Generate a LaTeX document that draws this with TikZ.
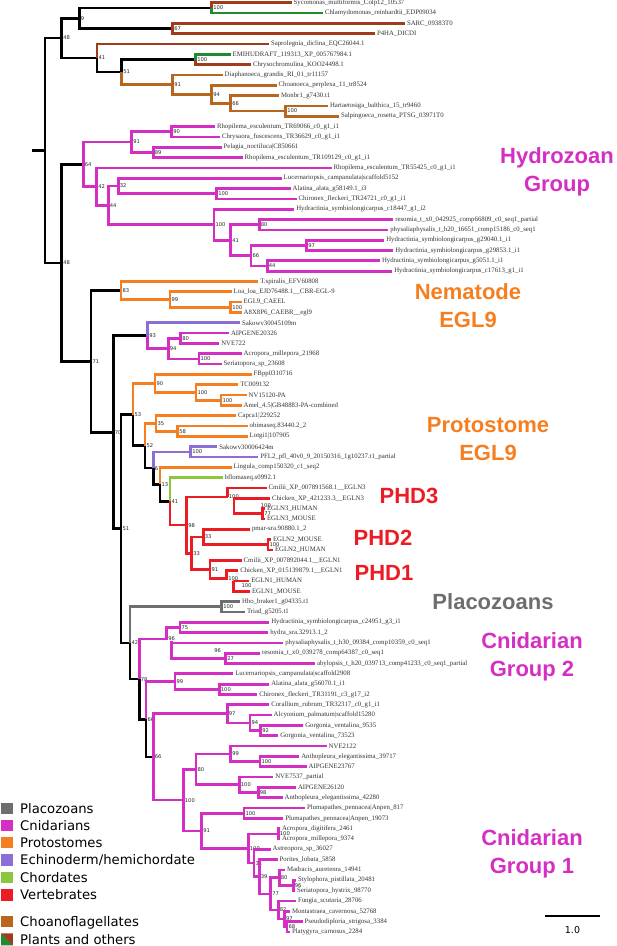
\documentclass[tikz,border=0pt]{standalone}
\usepackage{fontspec}
\setmainfont{Liberation Serif}
\newfontfamily\numfont{DejaVu Sans}
\newfontfamily\grpfont{Liberation Sans}
\newfontfamily\legfont{DejaVu Sans}
\definecolor{oth}{HTML}{A03C1C}
\definecolor{pla}{HTML}{1F8A2E}
\definecolor{cho}{HTML}{B8651E}
\definecolor{cni}{HTML}{D42FC2}
\definecolor{pro}{HTML}{F57F20}
\definecolor{ech}{HTML}{8B6FD6}
\definecolor{chd}{HTML}{8CC63E}
\definecolor{ver}{HTML}{EC1C24}
\definecolor{plc}{HTML}{6D6E70}
\tikzset{
 br/.style={line width=2.7pt, line join=miter},
 leaf/.style={anchor=west, xshift=1.4pt, inner sep=0.4pt, font=\fontsize{6.8}{7}\selectfont, text=black!80},
 bs/.style={anchor=west, xshift=1.1pt, inner sep=0.3pt, font=\numfont\fontsize{5.2}{5.2}\selectfont, text=black!85},
 grp/.style={align=center, inner sep=0pt, font=\grpfont\bfseries\fontsize{22}{28}\selectfont},
 leg/.style={anchor=base west, inner sep=0pt, font=\legfont\fontsize{13.2}{14}\selectfont},
 sw/.style={minimum size=11.5pt, inner sep=0pt, draw=none}
}
\newcommand\myleaf[4]{\coordinate (#1) at (#3,{2.7+10.325*#2}); \node[leaf] (#1t) at (#1) {#4};}
\newcommand\mynode[4]{\coordinate (#1) at (#2,#3); \node[bs] (#1b) at (#1) {#4};}
\begin{document}
\begin{tikzpicture}[x=1pt,y=-1pt]
\useasboundingbox (0,0) rectangle (617,946);
% leaves
\myleaf{L0}{0}{291.7}{Sycomonas\_multiformis\_Colp12\_10537}
\myleaf{L1}{1}{323}{Chlamydomonas\_reinhardtii\_EDP09034}
\myleaf{L2}{2}{405}{SARC\_09383T0}
\myleaf{L3}{3}{375}{P4HA\_DICDI}
\myleaf{L4}{4}{269}{Saprolegnia\_diclina\_EQC26044.1}
\myleaf{L5}{5}{230.7}{EMIHUDRAFT\_119313\_XP\_005767984.1}
\myleaf{L6}{6}{251}{Chrysochromulina\_KOO24498.1}
\myleaf{L7}{7}{222.7}{Diaphanoeca\_grandis\_RI\_01\_tr11157}
\myleaf{L8}{8}{276.7}{Choanoeca\_perplexa\_11\_tr8524}
\myleaf{L9}{9}{279}{Monbr1\_g7430.t1}
\myleaf{L10}{10}{328}{Hartaetosiga\_balthica\_15\_tr9460}
\myleaf{L11}{11}{339}{Salpingoeca\_rosetta\_PTSG\_03971T0}
\myleaf{L12}{12}{215}{Rhopilema\_esculentum\_TR69066\_c0\_g1\_i1}
\myleaf{L13}{13}{220}{Chrysaora\_fuscescens\_TR36629\_c0\_g1\_i1}
\myleaf{L14}{14}{221.7}{Pelagia\_noctiluca|C850661}
\myleaf{L15}{15}{242.7}{Rhopilema\_esculentum\_TR109129\_c0\_g1\_i1}
\myleaf{L16}{16}{331.7}{Rhopilema\_esculentum\_TR55425\_c0\_g1\_i1}
\myleaf{L17}{17}{281.7}{Lucernariopsis\_campanulata|scaffold5152}
\myleaf{L18}{18}{290.7}{Alatina\_alata\_g58149.1\_i3}
\myleaf{L19}{19}{296.7}{Chironex\_fleckeri\_TR24721\_c0\_g1\_i1}
\myleaf{L20}{20}{294.3}{Hydractinia\_symbiolongicarpus\_c18447\_g1\_i2}
\myleaf{L21}{21}{393.3}{resomia\_t\_x0\_042925\_comp66809\_c0\_seq1\_partial}
\myleaf{L22}{22}{388.3}{physaliaphysalis\_t\_h20\_16651\_comp15186\_c0\_seq1}
\myleaf{L23}{23}{384.3}{Hydractinia\_symbiolongicarpus\_g29040.1\_i1}
\myleaf{L24}{24}{393.3}{Hydractinia\_symbiolongicarpus\_g29853.1\_i1}
\myleaf{L25}{25}{380}{Hydractinia\_symbiolongicarpus\_g5051.1\_i1}
\myleaf{L26}{26}{392.3}{Hydractinia\_symbiolongicarpus\_c17613\_g1\_i1}
\myleaf{L27}{27}{258.3}{T.spiralis\_EFV60808}
\myleaf{L28}{28}{231.7}{Loa\_loa\_EJD76488.1\_\_CBR-EGL-9}
\myleaf{L29}{29}{241.7}{EGL9\_CAEEL}
\myleaf{L30}{30}{241.7}{A8X8P6\_CAEBR\_\_egl9}
\myleaf{L31}{31}{240}{Sakowv30045109m}
\myleaf{L32}{32}{229}{AIPGENE20326}
\myleaf{L33}{33}{219.3}{NVE722}
\myleaf{L34}{34}{241.7}{Acropora\_millepora\_21968}
\myleaf{L35}{35}{221.7}{Seriatopora\_sp\_23608}
\myleaf{L36}{36}{251.7}{FBpp0310716}
\myleaf{L37}{37}{238.3}{TC009132}
\myleaf{L38}{38}{246.7}{NV15120-PA}
\myleaf{L39}{39}{241.7}{Amel\_4.5|GB48883-PA-combined}
\myleaf{L40}{40}{236}{Capca1|229252}
\myleaf{L41}{41}{247.7}{obimaseq.83440.2\_2}
\myleaf{L42}{42}{247.7}{Lotgi1|107905}
\myleaf{L43}{43}{217.3}{Sakowv30006424m}
\myleaf{L44}{44}{258.3}{PFL2\_pfl\_40v0\_9\_20150316\_1g10237.t1\_partial}
\myleaf{L45}{45}{231.7}{Lingula\_comp150320\_c1\_seq2}
\myleaf{L46}{46}{222.7}{bflomaseq.s0992.1}
\myleaf{L47}{47}{266.7}{Cmilii\_XP\_007891568.1\_\_EGLN3}
\myleaf{L48}{48}{270}{Chicken\_XP\_421233.3\_\_EGLN3}
\myleaf{L49}{49}{265}{EGLN3\_HUMAN}
\myleaf{L50}{50}{265}{EGLN3\_MOUSE}
\myleaf{L51}{51}{250}{pmar-sra.90880.1\_2}
\myleaf{L52}{52}{271}{EGLN2\_MOUSE}
\myleaf{L53}{53}{273}{EGLN2\_HUMAN}
\myleaf{L54}{54}{241.7}{Cmilii\_XP\_007892044.1\_\_EGLN1}
\myleaf{L55}{55}{238.3}{Chicken\_XP\_015139879.1\_\_EGLN1}
\myleaf{L56}{56}{249.3}{EGLN1\_HUMAN}
\myleaf{L57}{57}{250}{EGLN1\_MOUSE}
\myleaf{L58}{58}{240}{Hho\_braker1\_g04335.t1}
\myleaf{L59}{59}{245}{Triad\_g5205.t1}
\myleaf{L60}{60}{269.3}{Hydractinia\_symbiolongicarpus\_c24951\_g3\_i1}
\myleaf{L61}{61}{268.3}{hydra\_sra.32913.1\_2}
\myleaf{L62}{62}{283.3}{physaliaphysalis\_t\_h30\_09384\_comp10359\_c0\_seq1}
\myleaf{L63}{63}{260}{resomia\_t\_x0\_039278\_comp64387\_c0\_seq1}
\myleaf{L64}{64}{315}{abylopsis\_t\_h20\_039713\_comp41233\_c0\_seq1\_partial}
\myleaf{L65}{65}{233.3}{Lucernariopsis\_campanulata|scaffold2908}
\myleaf{L66}{66}{269.3}{Alatina\_alata\_g56070.1\_i1}
\myleaf{L67}{67}{257.3}{Chironex\_fleckeri\_TR31191\_c3\_g17\_i2}
\myleaf{L68}{68}{269.3}{Corallium\_rubrum\_TR32317\_c0\_g1\_i1}
\myleaf{L69}{69}{271.7}{Alcyonium\_palmatum|scaffold15280}
\myleaf{L70}{70}{303.3}{Gorgonia\_ventalina\_9535}
\myleaf{L71}{71}{278.3}{Gorgonia\_ventalina\_73523}
\myleaf{L72}{72}{326.7}{NVE2122}
\myleaf{L73}{73}{299.3}{Anthopleura\_elegantissima\_39717}
\myleaf{L74}{74}{306.7}{AIPGENE23767}
\myleaf{L75}{75}{273.3}{NVE7537\_partial}
\myleaf{L76}{76}{296}{AIPGENE26120}
\myleaf{L77}{77}{282.7}{Anthopleura\_elegantissima\_42280}
\myleaf{L78}{78}{305}{Plumapathes\_pennacea|Anpen\_817}
\myleaf{L79}{79}{283.3}{Plumapathes\_pennacea|Anpen\_19073}
\myleaf{L80}{80}{280}{Acropora\_digitifera\_2461}
\myleaf{L81}{81}{280}{Acropora\_millepora\_9374}
\myleaf{L82}{82}{270.7}{Astreopora\_sp\_36027}
\myleaf{L83}{83}{277.7}{Porites\_lobata\_5858}
\myleaf{L84}{84}{285}{Madracis\_auretenra\_14941}
\myleaf{L85}{85}{296}{Stylophora\_pistillata\_20481}
\myleaf{L86}{86}{295}{Seriatopora\_hystrix\_98770}
\myleaf{L87}{87}{296}{Fungia\_scutaria\_28706}
\myleaf{L88}{88}{290}{Montastraea\_cavernosa\_52768}
\myleaf{L89}{89}{302.7}{Pseudodiploria\_strigosa\_3384}
\myleaf{L90}{90}{290}{Platygyra\_carnosus\_2284}
% internal nodes
\coordinate (rs) at (31.7,150.5);
\coordinate (root) at (45,150.5);
\mynode{n100a}{211.7}{7.85}{100}
\mynode{n67}{172.7}{28.5}{67}
\mynode{n9}{79.3}{18.2}{9}
\mynode{n100b}{195.7}{59.5}{100}
\mynode{n100c}{285.7}{111.1}{100}
\mynode{n66a}{230.7}{103.35}{66}
\mynode{n94a}{211.7}{94.3}{94}
\mynode{n91a}{172.7}{84.65}{91}
\mynode{n51a}{121.7}{72.1}{51}
\mynode{n41a}{97}{58.05}{41}
\mynode{n48a}{61.7}{38.1}{48}
\mynode{n90h}{171.7}{131.75}{90}
\mynode{n89h}{153.3}{152.4}{89}
\mynode{n91h}{131.7}{142.1}{91}
\mynode{n100h1}{216.7}{193.7}{100}
\mynode{n32h}{118.3}{185.95}{32}
\mynode{n80h}{259.3}{224.7}{80}
\mynode{n97h}{306.7}{245.35}{97}
\mynode{n44h2}{267.3}{265.95}{44}
\mynode{n66h}{251}{255.65}{66}
\mynode{n41h}{230.7}{240.2}{41}
\mynode{n100h2}{214}{224.7}{100}
\mynode{n44h}{108.3}{205.3}{44}
\mynode{n42h}{96.7}{186.6}{42}
\mynode{n64h}{83.3}{164.35}{64}
\mynode{n100n}{230.7}{307.3}{100}
\mynode{n99n}{170}{299.55}{99}
\mynode{n83n}{121}{290.5}{83}
\mynode{n80c}{180.7}{338.25}{80}
\mynode{n100c2}{199}{358.9}{100}
\mynode{n94c}{168.3}{348.6}{94}
\mynode{n93c}{147.7}{335.7}{93}
\mynode{n100p1}{221}{400.2}{100}
\mynode{n100p2}{196}{392.45}{100}
\mynode{n90p}{155}{383.4}{90}
\mynode{n58p}{177.7}{431.2}{58}
\mynode{n35p}{156}{423.45}{35}
\mynode{n100e}{190.7}{451.85}{100}
\mynode{n77v}{262.7}{513.8}{77}
\mynode{n100v3b}{259.3}{506.05}{100}
\mynode{n100v3}{227.3}{497.0}{100}
\mynode{n100v2}{268}{544.75}{100}
\mynode{n33v2}{203.3}{537.0}{33}
\mynode{n100v1b}{240}{586.05}{100}
\mynode{n100v1}{226.7}{578.3}{100}
\mynode{n91v}{210}{569.3}{91}
\mynode{n33v}{191.7}{553.15}{33}
\mynode{n98v}{186.7}{525.1}{98}
\mynode{n41v}{170}{501.4}{41}
\mynode{n13}{160}{484.35}{13}
\mynode{n6}{153.3}{468.1}{6}
\mynode{n52}{145}{445.8}{52}
\mynode{n53}{133}{414.6}{53}
\mynode{n100pl}{221.7}{606.7}{100}
\mynode{n75}{180}{627.35}{75}
\mynode{n27}{225.7}{658.35}{27}
\mynode{n96b}{212.7}{650.6}{96}
\mynode{n96}{166.7}{639.0}{96}
\mynode{n100g}{219.3}{689.3}{100}
\mynode{n99g}{175}{681.55}{99}
\mynode{n92}{260.7}{730.6}{92}
\mynode{n94g}{250}{722.85}{94}
\mynode{n97g}{227.3}{713.8}{97}
\mynode{n100a1}{260}{761.6}{100}
\mynode{n99a}{230.7}{753.85}{99}
\mynode{n98a}{258.3}{792.55}{98}
\mynode{n100a2}{239.3}{784.8}{100}
\mynode{n80a}{196}{769.3}{80}
\mynode{n100pp}{244}{813.2}{100}
\mynode{n100ac}{278.3}{833.85}{100}
\mynode{n68}{287}{926.8}{68}
\mynode{n97s}{284.5}{919.05}{97}
\mynode{n82}{278.3}{910.0}{82}
\mynode{n96s}{293.3}{885.5}{96}
\mynode{n80s}{279.3}{877.75}{80}
\mynode{n77s}{270.7}{893.9}{77}
\mynode{n39s}{259.3}{876.8}{39}
\mynode{n31s}{254}{863.1}{31}
\mynode{n100s}{248.3}{848.5}{100}
\mynode{n91g}{201.7}{830.85}{91}
\mynode{n100g1}{183.3}{800.1}{100}
\mynode{n66l}{153.3}{756.95}{66}
\mynode{n66u}{146}{719.25}{66}
\mynode{n78}{139.3}{679.1}{78}
\mynode{n42b}{130}{642.9}{42}
\mynode{n51b}{121}{528.75}{51}
\mynode{n70}{113.3}{432.2}{70}
\mynode{n71}{91}{361.35}{71}
\mynode{n48b}{61.7}{262.85}{48}
% edges
\draw[br] (rs) -- (root);
\foreach \a/\b in {root/n48a,root/n48b,n48a/n9,n9/n100a,n9/n67,n48a/n41a,n41a/n51a,n51a/n100b,
  n48b/n64h,n48b/n71,n71/n83n,n71/n70,n70/n93c,n70/n51b,n51b/n53,n53/n52,n52/n6,n6/n13,n13/n41v,
  n51b/n42b,n42b/n78,n78/n66u,n66u/n66l}
  \draw[br,black] (\a) |- (\b);
\foreach \a/\b in {n100a/L0,n67/L2,n67/L3,n41a/L4,n100b/L6}
  \draw[br,oth] (\a) |- (\b);
\foreach \a/\b in {n100a/L1,n100b/L5}
  \draw[br,pla] (\a) |- (\b);
\foreach \a/\b in {n51a/n91a,n91a/L7,n91a/n94a,n94a/L8,n94a/n66a,n66a/L9,n66a/n100c,n100c/L10,n100c/L11}
  \draw[br,cho] (\a) |- (\b);
\foreach \a/\b in {n64h/n91h,n91h/n90h,n90h/L12,n90h/L13,n91h/n89h,n89h/L14,n89h/L15,n64h/n42h,n42h/L16,
  n42h/n44h,n44h/n32h,n32h/L17,n32h/n100h1,n100h1/L18,n100h1/L19,n44h/n100h2,n100h2/L20,n100h2/n41h,
  n41h/n80h,n80h/L21,n80h/L22,n41h/n66h,n66h/n97h,n97h/L23,n97h/L24,n66h/n44h2,n44h2/L25,n44h2/L26,
  n93c/n94c,n94c/n80c,n80c/L32,n80c/L33,n94c/n100c2,n100c2/L34,n100c2/L35,
  n78/n96,n96/n75,n75/L60,n75/L61,n96/n96b,n96b/L62,n96b/n27,n27/L63,n27/L64,
  n66u/n99g,n99g/L65,n99g/n100g,n100g/L66,n100g/L67,
  n66l/n97g,n97g/L68,n97g/n94g,n94g/L69,n94g/n92,n92/L70,n92/L71,n66l/n100g1,n100g1/n80a,n80a/n99a,
  n99a/L72,n99a/n100a1,n100a1/L73,n100a1/L74,n80a/n100a2,n100a2/L75,n100a2/n98a,n98a/L76,n98a/L77,
  n100g1/n91g,n91g/n100pp,n100pp/L78,n100pp/L79,n91g/n100s,n100s/n100ac,n100ac/L80,n100ac/L81,
  n100s/n31s,n31s/L82,n31s/n39s,n39s/L83,n39s/n77s,n77s/n80s,n80s/L84,n80s/n96s,n96s/L85,n96s/L86,
  n77s/n82,n82/L87,n82/n97s,n97s/L88,n97s/n68,n68/L89,n68/L90}
  \draw[br,cni] (\a) |- (\b);
\foreach \a/\b in {n83n/L27,n83n/n99n,n99n/L28,n99n/n100n,n100n/L29,n100n/L30,
  n53/n90p,n90p/L36,n90p/n100p2,n100p2/L37,n100p2/n100p1,n100p1/L38,n100p1/L39,
  n52/n35p,n35p/L40,n35p/n58p,n58p/L41,n58p/L42,n13/L45}
  \draw[br,pro] (\a) |- (\b);
\foreach \a/\b in {n93c/L31,n6/n100e,n100e/L43,n100e/L44}
  \draw[br,ech] (\a) |- (\b);
\draw[br,chd] (n41v) |- (L46);
\foreach \a/\b in {n41v/n98v,n98v/n100v3,n100v3/L47,n100v3/n100v3b,n100v3b/L48,n100v3b/n77v,n77v/L49,n77v/L50,
  n98v/n33v,n33v/n33v2,n33v2/L51,n33v2/n100v2,n100v2/L52,n100v2/L53,n33v/n91v,n91v/L54,n91v/n100v1,
  n100v1/L55,n100v1/n100v1b,n100v1b/L56,n100v1b/L57}
  \draw[br,ver] (\a) |- (\b);
\foreach \a/\b in {n42b/n100pl,n100pl/L58,n100pl/L59}
  \draw[br,plc] (\a) |- (\b);
% group labels
\node[grp, text=cni] (gHyd) at (557,172) {Hydrozoan\\Group};
\node[grp, text=pro] (gNem) at (468,306) {Nematode\\EGL9};
\node[grp, text=pro] (gPro) at (488,439) {Protostome\\EGL9};
\node[grp, text=ver] (gP3) at (409,496) {PHD3};
\node[grp, text=ver] (gP2) at (383,538) {PHD2};
\node[grp, text=ver] (gP1) at (384,573) {PHD1};
\node[grp, text=plc] (gPla) at (493,602) {Placozoans};
\node[grp, text=cni] (gC2) at (532,657) {Cnidarian\\Group 2};
\node[grp, text=cni] (gC1) at (532,854) {Cnidarian\\Group 1};
% legend
\node[sw, fill=plc] (s1) at (7,808.3) {};
\node[sw, fill=cni] (s2) at (7,825.7) {};
\node[sw, fill=pro] (s3) at (7,842.3) {};
\node[sw, fill=ech] (s4) at (7,860) {};
\node[sw, fill=chd] (s5) at (7,877.3) {};
\node[sw, fill=ver] (s6) at (7,895) {};
\node[sw, fill=cho] (s7) at (7,921.7) {};
\node[sw] (s8) at (7,939.3) {};
\fill[pla] (s8.north west) -- (s8.south west) -- (s8.south east) -- cycle;
\fill[oth] (s8.north west) -- (s8.north east) -- (s8.south east) -- cycle;
\node[leg] (t1) at (20,813.1) {Placozoans};
\node[leg] (t2) at (20,830.5) {Cnidarians};
\node[leg] (t3) at (20,847.1) {Protostomes};
\node[leg] (t4) at (20,864.8) {Echinoderm/hemichordate};
\node[leg] (t5) at (20,882.1) {Chordates};
\node[leg] (t6) at (20,899.8) {Vertebrates};
\node[leg] (t7) at (20,926.5) {Choanoflagellates};
\node[leg] (t8) at (20,944.1) {Plants and others};
% scale bar
\coordinate (sb1) at (545,916);
\coordinate (sb2) at (600,916);
\draw[line width=2.7pt] (sb1) -- (sb2);
\node[font=\legfont\fontsize{9.5}{10}\selectfont, inner sep=0pt] (sbl) at (572.5,930) {1.0};
\end{tikzpicture}
\end{document}
